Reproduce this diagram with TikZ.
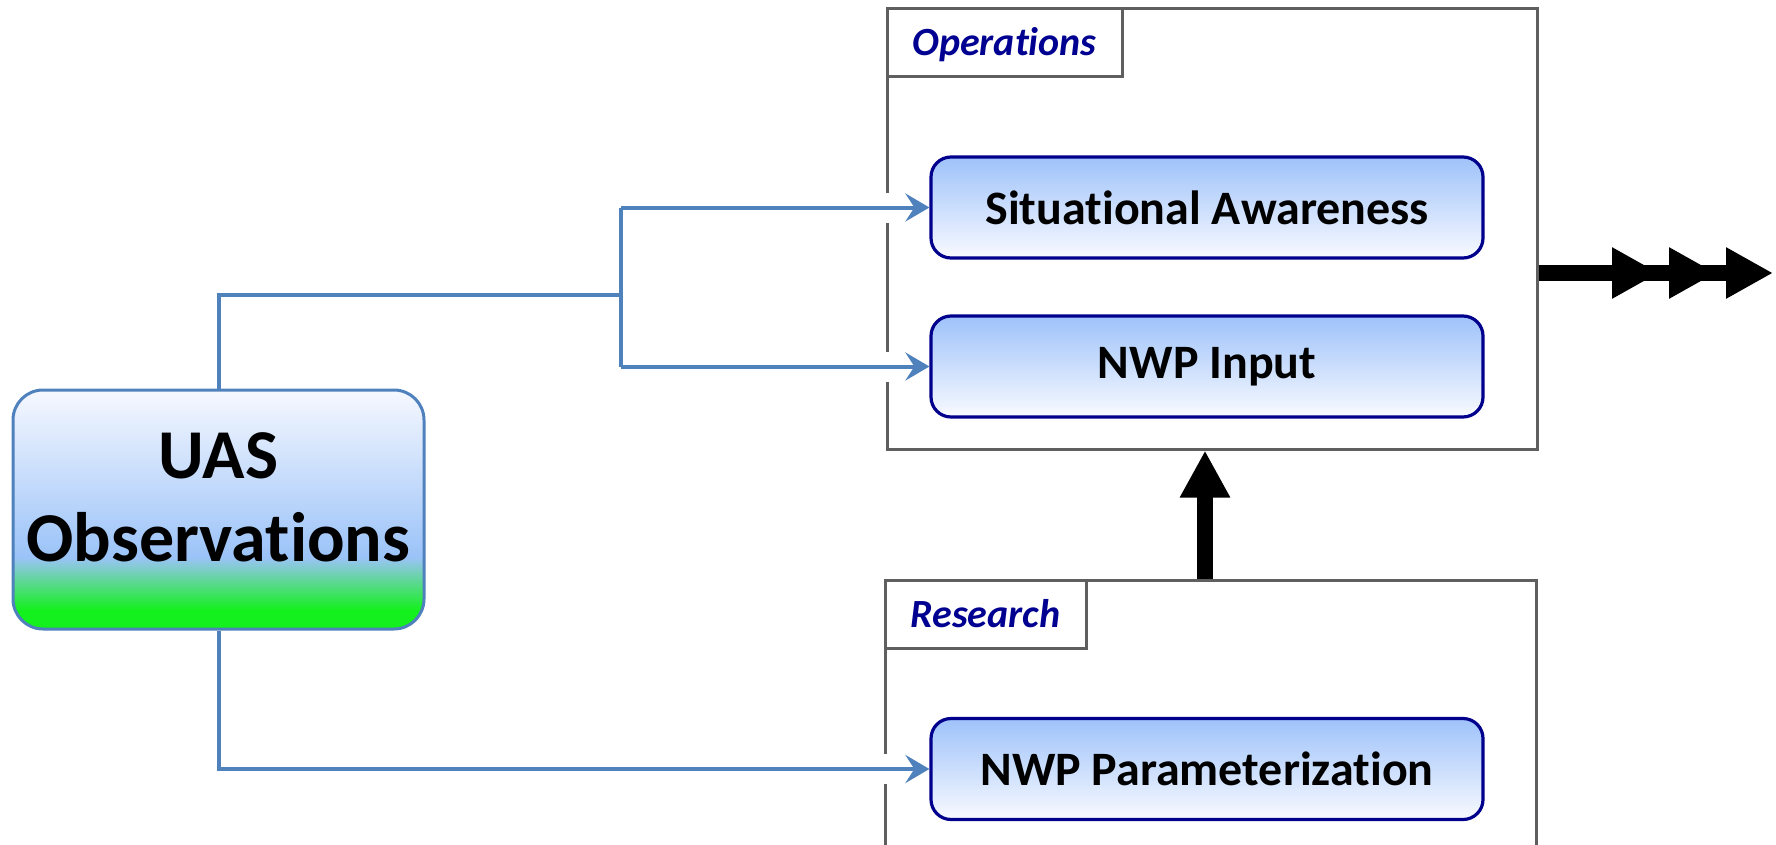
\documentclass[tikz,border=0pt]{standalone}
\usepackage{fontspec}
\setmainfont[Ligatures={NoCommon}]{Carlito}
\usetikzlibrary{arrows.meta,calc}
\definecolor{navyT}{RGB}{0,0,145}
\definecolor{boxB}{RGB}{0,0,140}
\definecolor{connB}{RGB}{79,129,189}
\definecolor{frameG}{RGB}{95,95,95}
\definecolor{topB}{RGB}{158,194,250}
\definecolor{botW}{RGB}{248,250,255}
\definecolor{uasG}{RGB}{20,240,30}
\definecolor{uasL}{RGB}{155,195,248}
\definecolor{uasW}{RGB}{246,248,255}
\pgfdeclareverticalshading{uasshade}{100bp}{color(0bp)=(uasG); color(25bp)=(uasG); color(29bp)=(uasG); color(40bp)=(uasL); color(75bp)=(uasW); color(100bp)=(uasW)}
\tikzset{
  inbox/.style={draw=boxB, line width=3.2pt, rounded corners=20pt, top color=topB, bottom color=botW,
    minimum width=552pt, minimum height=101pt, font=\fontsize{48}{56}\selectfont\bfseries, text=black},
  frame/.style={draw=frameG, line width=3pt, fill=white},
  tab/.style={draw=frameG, line width=3pt, fill=white, minimum height=68pt,
    font=\fontsize{40}{48}\selectfont\bfseries\itshape, text=navyT, inner sep=0pt,
    text height=26pt, text depth=0pt},
  uasbox/.style={draw=connB, line width=3pt, rounded corners=30pt, shade, shading=uasshade,
    minimum width=411pt, minimum height=239pt},
  uastext/.style={align=center, font=\fontsize{70}{83}\selectfont\bfseries, text=black, inner sep=0pt},
  conn/.style={draw=connB, line width=4pt},
  connarrow/.style={conn, -{Stealth[length=24pt,width=28pt,inset=9pt]},
    preaction={draw=white, line width=30pt, -, shorten >=26pt}},
  big/.style={draw=black, line width=16pt},
}
\begin{document}
\begin{tikzpicture}[x=1pt,y=-1pt]
\useasboundingbox (0,0) rectangle (1776,845);
\clip (0,0) rectangle (1776,845);
% containers
\node[frame, minimum width=650pt, minimum height=440pt] (ops) at (1212,229) {};
\node[frame, minimum width=651pt, minimum height=340pt] (res) at (1210.5,750) {};
\node[tab, minimum width=235pt, anchor=north west] (opst) at (ops.north west) {Operations};
\node[tab, minimum width=201pt, anchor=north west] (rest) at (res.north west) {Research};
% inner boxes
\node[inbox] (sa) at (1207,207.5) {Situational Awareness};
\node[inbox] (nwp) at (1207,366.5) {NWP Input};
\node[inbox] (par) at (1207,769) {NWP Parameterization};
% UAS
\node[uasbox] (uas) at (218.5,509.5) {};
\node[uastext] (uast) at (218.5,497) {UAS\\Observations};
% connectors
\coordinate (b1) at (621,295);
\coordinate (bt) at (sa.west -| b1);
\coordinate (bb) at (nwp.west -| b1);
\draw[connarrow] (bt) -- (sa.west);
\draw[connarrow] (bb) -- (nwp.west);
\draw[connarrow] (uas.south) |- (par.west);
\draw[conn] (uas.north) |- (b1);
\draw[conn] (bt) -- (bb);
% big arrows
\coordinate (ua) at (1205,0);
\draw[big, -{Triangle[length=47pt,width=47pt]}] (res.north -| ua) -- (ops.south -| ua);
\coordinate (ra) at (0,273);
\coordinate (rend) at (1773,273);
\draw[big] (ops.east |- ra) -- (1730,273);
\draw[big, -{Triangle[length=47pt,width=48pt,sep=10pt] Triangle[length=47pt,width=48pt,sep=10pt] Triangle[length=47pt,width=48pt]}] (ops.east |- ra) -- (rend);
\end{tikzpicture}
\end{document}
